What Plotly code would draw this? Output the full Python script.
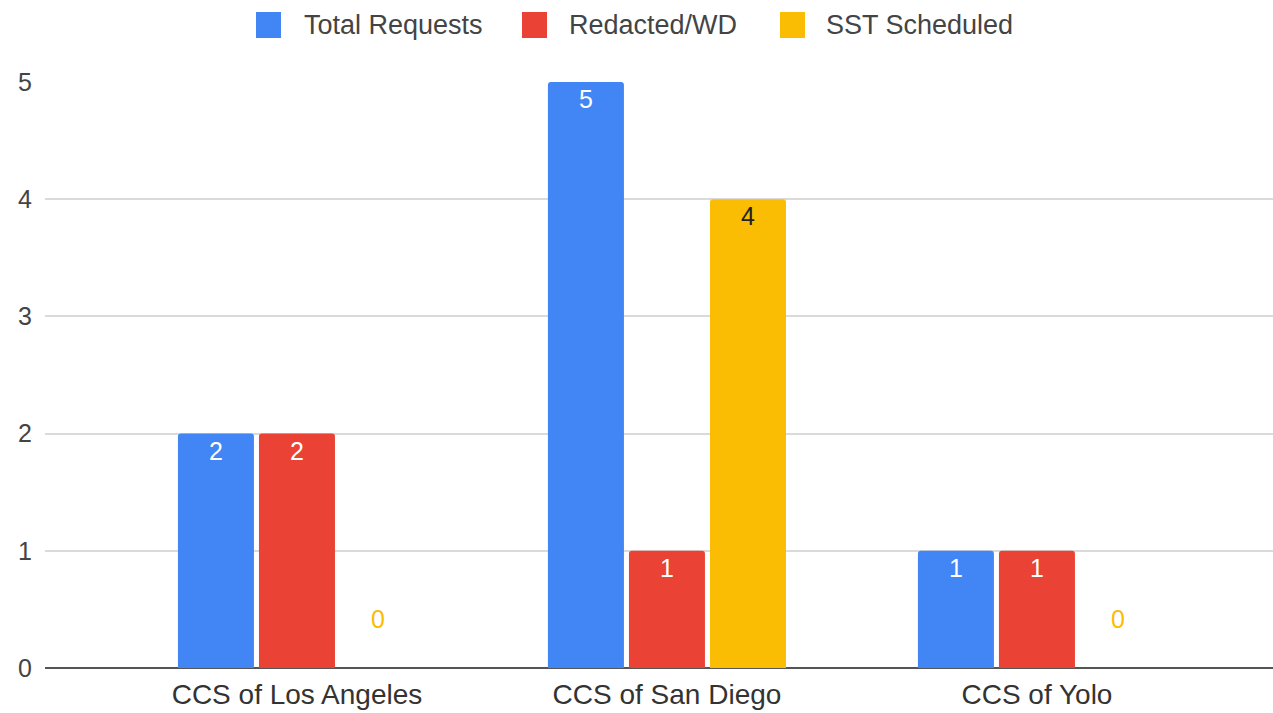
import plotly.graph_objects as go

categories = ["CCS of Los Angeles", "CCS of San Diego", "CCS of Yolo"]
total_requests = [2, 5, 1]
redacted_wd = [2, 1, 1]
sst_scheduled = [0, 4, 0]
series_names = ["Total Requests", "Redacted/WD", "SST Scheduled"]

colors = ["#4285F4", "#EA4335", "#FBBC04"]
inside_text_colors = ["#FFFFFF", "#FFFFFF", "#222222"]
series_values = [total_requests, redacted_wd, sst_scheduled]

FONT = "Liberation Sans, Arial, sans-serif"
W, H = 1273, 713
ML, MR, MT, MB = 45, 0, 82, 45
PW, PH = W - ML - MR, H - MT - MB

fig = go.Figure()
for name, vals, color, intext in zip(series_names, series_values, colors, inside_text_colors):
    texts = [f"{v}" if v != 0 else f"{v}<br>\u00a0" for v in vals]
    positions = ["inside" if v != 0 else "outside" for v in vals]
    fig.add_trace(go.Bar(
        name=name,
        x=categories,
        y=vals,
        text=texts,
        textposition=positions,
        insidetextanchor="end",
        insidetextfont=dict(color=intext, size=25, family=FONT),
        outsidetextfont=dict(color=color, size=25, family=FONT),
        textangle=0,
        cliponaxis=False,
        marker=dict(color=color, cornerradius=3, line=dict(width=0)),
        hoverinfo="skip",
        showlegend=False,
    ))

# custom legend (pixel layout converted to paper coordinates)
legend_square_x = [256, 522, 780]
legend_text_x = [302, 567, 824]
sq_w, sq_top, sq_bot = 25, 12, 38
def px_to_paper_x(px):
    return (px - ML) / PW
def py_to_paper_y(py):
    return (H - MB - py) / PH

shapes = []
annotations = []
for name, color, sx, tx in zip(series_names, colors, legend_square_x, legend_text_x):
    shapes.append(dict(
        type="rect", xref="paper", yref="paper",
        x0=px_to_paper_x(sx), x1=px_to_paper_x(sx + sq_w),
        y0=py_to_paper_y(sq_bot), y1=py_to_paper_y(sq_top),
        fillcolor=color, line=dict(width=0), layer="above",
    ))
    annotations.append(dict(
        text=name, xref="paper", yref="paper",
        x=px_to_paper_x(tx), y=py_to_paper_y(25),
        xanchor="left", yanchor="middle", showarrow=False,
        font=dict(size=27, color="#444444", family=FONT),
    ))

fig.update_layout(
    width=W,
    height=H,
    barmode="group",
    bargap=0.343,
    bargroupgap=0.062,
    paper_bgcolor="white",
    plot_bgcolor="white",
    margin=dict(l=ML, r=MR, t=MT, b=MB, autoexpand=False),
    font=dict(family=FONT, size=26, color="#444444"),
    showlegend=False,
    shapes=shapes,
    annotations=annotations,
)

fig.update_xaxes(
    range=[-0.681, 2.638],
    showgrid=False,
    showline=False,
    ticks="",
    automargin=False,
    ticklabelstandoff=7,
    tickfont=dict(size=28, color="#333333", family=FONT),
    fixedrange=True,
)
fig.update_yaxes(
    range=[0, 5],
    dtick=1,
    showgrid=True,
    gridcolor="#DADADA",
    gridwidth=1.5,
    zeroline=True,
    zerolinecolor="#555555",
    zerolinewidth=2,
    showline=False,
    ticks="",
    automargin=False,
    ticklabelstandoff=12,
    tickfont=dict(size=25, color="#444444", family=FONT),
    fixedrange=True,
)

fig.write_html(
    "out.html",
    config={"displayModeBar": False},
    post_script="document.body.style.margin='0';document.body.style.overflow='hidden';",
)
